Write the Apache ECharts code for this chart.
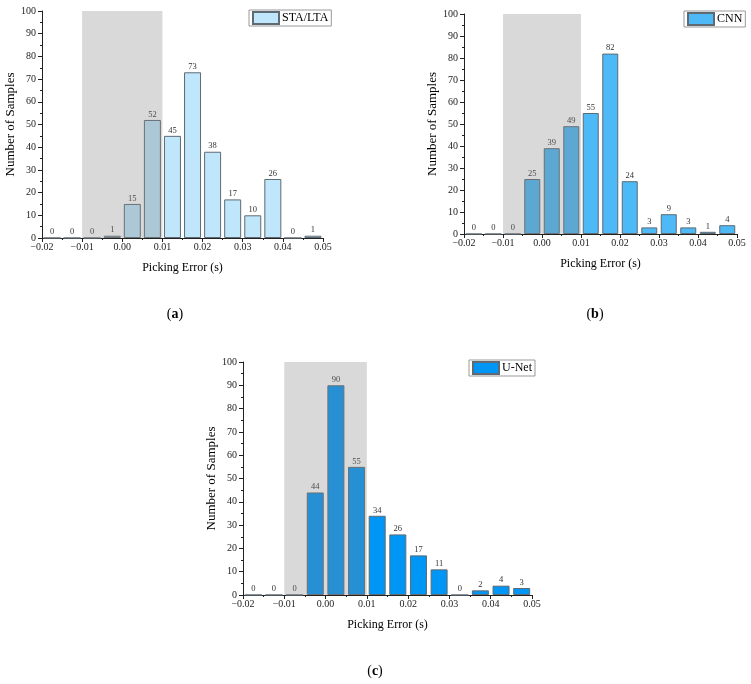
<!DOCTYPE html>
<html>
<head>
<meta charset="utf-8">
<script src="https://cdn.jsdelivr.net/npm/echarts@6/dist/echarts.min.js"></script>
<style>
  html, body { margin: 0; padding: 0; background: #fff; }
  #chart { width: 751px; height: 684px; }
</style>
</head>
<body>
<div id="chart"></div>
<script>
// bin centres (s), bin width 0.005
const binCenters = [-0.0175, -0.0125, -0.0075, -0.0025, 0.0025, 0.0075, 0.0125, 0.0175, 0.0225, 0.0275, 0.0325, 0.0375, 0.0425, 0.0475];
const staLtaCounts = [0, 0, 0, 1, 15, 52, 45, 73, 38, 17, 10, 26, 0, 1];
const cnnCounts = [0, 0, 0, 25, 39, 49, 55, 82, 24, 3, 9, 3, 1, 4];
const unetCounts = [0, 0, 0, 44, 90, 55, 34, 26, 17, 11, 0, 2, 4, 3];
const modelNames = ["STA/LTA", "CNN", "U-Net"];
const panelTags = ["a", "b", "c"];
const shadedRange = [-0.01, 0.01];

const FONT = "Liberation Serif";
const AXIS_COLOR = "#222";

const panels = [
  { grid: { left: 42, top: 11, width: 281, height: 227 }, barWidth: 17, color: "#bfe6fb", counts: staLtaCounts,
    legend: { left: 249, top: 10 }, caption: { x: 170, y: 302 } },
  { grid: { left: 464, top: 14, width: 273, height: 220 }, barWidth: 16, color: "#4db9f7", counts: cnnCounts,
    legend: { left: 684, top: 11 }, caption: { x: 590, y: 302 } },
  { grid: { left: 243, top: 362, width: 289, height: 233 }, barWidth: 17, color: "#0096f6", counts: unetCounts,
    legend: { left: 469, top: 360 }, caption: { x: 370, y: 659 } },
];

function fmtX(v) {
  return v.toFixed(2).replace("-", "\u2212");
}

const chart = echarts.init(document.getElementById("chart"));

const option = {
  backgroundColor: "#fff",
  animation: false,
  textStyle: { fontFamily: FONT },
  grid: panels.map((p) => ({ ...p.grid, containLabel: false })),
  title: panels.map((p, i) => ({
    text: "({b|" + panelTags[i] + "})",
    left: p.caption.x,
    top: p.caption.y,
    textAlign: "center",
    textStyle: {
      fontFamily: FONT, fontSize: 14, fontWeight: "normal", color: "#000",
      rich: { b: { fontFamily: FONT, fontSize: 14, fontWeight: "bold", color: "#000" } },
    },
  })),
  legend: panels.map((p, i) => ({
    data: [modelNames[i]],
    left: p.legend.left,
    top: p.legend.top,
    orient: "vertical",
    icon: "rect",
    itemWidth: 26,
    itemHeight: 12,
    itemGap: 0,
    padding: [1, 3, 1, 3],
    borderColor: "#999",
    borderWidth: 1,
    textStyle: { fontFamily: FONT, fontSize: 12, color: "#000", padding: [0, 0, 0, -2] },
  })),
  xAxis: panels.map((p, i) => ({
    gridIndex: i,
    type: "value",
    min: -0.02,
    max: 0.05,
    interval: 0.01,
    name: "Picking Error (s)",
    nameLocation: "middle",
    nameGap: 24,
    nameTextStyle: { fontFamily: FONT, fontSize: 12, color: "#000" },
    axisLine: { show: true, onZero: false, lineStyle: { color: AXIS_COLOR, width: 1 } },
    axisTick: { show: true, inside: false, length: 4, lineStyle: { color: AXIS_COLOR } },
    minorTick: { show: true, splitNumber: 2, length: 2, lineStyle: { color: AXIS_COLOR } },
    axisLabel: { fontFamily: FONT, fontSize: 10, color: "#222", margin: 4, formatter: fmtX },
    splitLine: { show: false },
  })),
  yAxis: panels.map((p, i) => ({
    gridIndex: i,
    type: "value",
    min: 0,
    max: 100,
    interval: 10,
    name: "Number of Samples",
    nameLocation: "middle",
    nameGap: 25,
    nameTextStyle: { fontFamily: FONT, fontSize: 13, color: "#000" },
    axisLine: { show: true, onZero: false, lineStyle: { color: AXIS_COLOR, width: 1 } },
    axisTick: { show: true, inside: false, length: 4, lineStyle: { color: AXIS_COLOR } },
    minorTick: { show: true, splitNumber: 2, length: 2, lineStyle: { color: AXIS_COLOR } },
    axisLabel: { fontFamily: FONT, fontSize: 10, color: "#222", margin: 6 },
    splitLine: { show: false },
  })),
  series: [],
};

panels.forEach((p, i) => {
  option.series.push({
    name: modelNames[i],
    type: "bar",
    xAxisIndex: i,
    yAxisIndex: i,
    barWidth: p.barWidth,
    z: 2,
    itemStyle: { color: p.color, borderColor: "#5f6a72", borderWidth: 1 },
    label: { show: true, position: "top", distance: 1, fontFamily: FONT, fontSize: 8.5, color: "#333" },
    data: binCenters.map((x, k) => [x, p.counts[k]]),
  });
  // grey shaded window drawn over the bars
  option.series.push({
    name: "window" + i,
    type: "line",
    xAxisIndex: i,
    yAxisIndex: i,
    z: 5,
    symbol: "none",
    silent: true,
    lineStyle: { opacity: 0 },
    data: [[0, 0]],
    markArea: {
      silent: true,
      z: 10,
      itemStyle: { color: "rgba(128,128,128,0.3)" },
      data: [[{ xAxis: shadedRange[0], yAxis: 0 }, { xAxis: shadedRange[1], yAxis: 100 }]],
    },
  });
});

chart.setOption(option);
</script>
</body>
</html>
